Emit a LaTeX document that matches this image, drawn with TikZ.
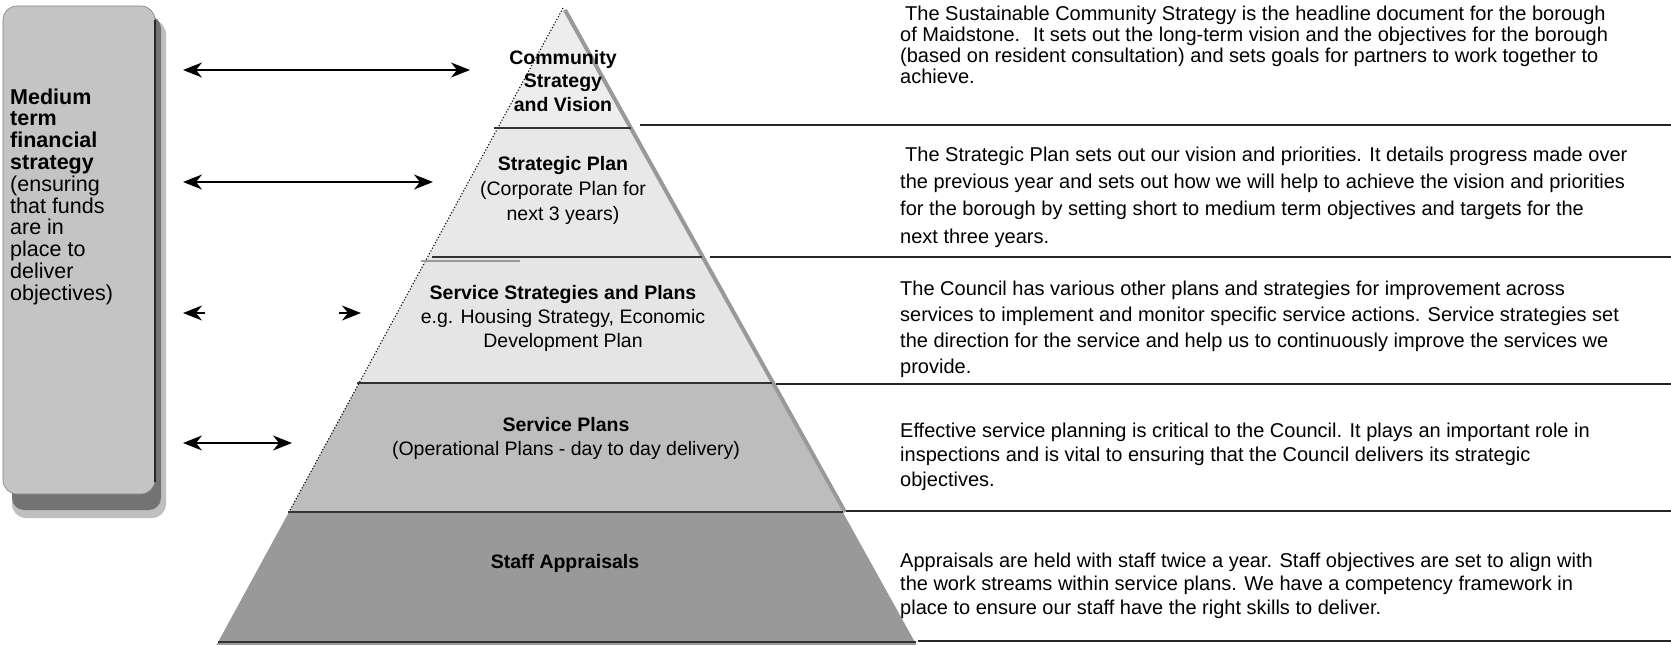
\documentclass[tikz,border=0pt]{standalone}
\usepackage{fontspec}
\setmainfont{Liberation Sans}
\usetikzlibrary{arrows.meta}
\begin{document}
\begin{tikzpicture}[x=1pt,y=-1pt,
  desc/.style={anchor=base west, inner sep=0pt, font=\fontsize{20}{24}\selectfont},
  pyrb/.style={anchor=base, inner sep=0pt, font=\fontsize{19.5}{24}\selectfont\bfseries},
  pyrr/.style={anchor=base, inner sep=0pt, font=\fontsize{19.5}{24}\selectfont},
  boxb/.style={anchor=base west, inner sep=0pt, font=\fontsize{21.5}{24}\selectfont\bfseries},
  boxr/.style={anchor=base west, inner sep=0pt, font=\fontsize{21.5}{24}\selectfont},
  sepline/.style={line width=2pt, black!85},
  layerline/.style={line width=2.6pt, black!80},
  edgeleft/.style={black, line width=1.1pt, dotted},
  edgeright/.style={black!40, line width=4pt},
  tipstyle/.style={line width=1.3pt},
  link/.style={tipstyle, {Stealth[length=19pt,width=15pt,inset=6pt]}-{Stealth[length=19pt,width=15pt,inset=6pt]}},
  onetip/.style={tipstyle, -{Stealth[length=19pt,width=15pt,inset=6pt]}},
]
\useasboundingbox (0,0) rectangle (1671,645);
\fill[white] (0,0) rectangle (1671,645);

% ---------- left box ----------
\fill[black!25, rounded corners=14pt] (12,20) rectangle (166,518);
\fill[black!55, rounded corners=12pt] (12,16) rectangle (161,510);
\filldraw[fill=black!23, draw=black!50, line width=0.6pt, rounded corners=14pt] (3,6) rectangle (155,494);
\draw[black!85, line width=2pt] (155,20) -- (155,482);

\foreach \t [count=\i] in {Medium, term, financial, strategy}
  \node[boxb] (bx\i) at (10,{104+21.8*(\i-1)}) {\t};
\foreach \t [count=\i from 5] in {{(ensuring}, {that funds}, {are in}, {place to}, {deliver}, {objectives)}}
  \node[boxr] (bx\i) at (10,{104+21.8*(\i-1)}) {\t};

% ---------- pyramid layers ----------
\fill[black!7] (563,8) -- (629.6,128) -- (497.7,128) -- cycle;
\fill[black!9] (497.7,128) -- (629.6,128) -- (701.2,257) -- (427.5,257) -- cycle;
\fill[black!10] (427.5,257) -- (701.2,257) -- (771,383) -- (359,383) -- cycle;
\fill[black!26] (359,383) -- (771,383) -- (842.7,512) -- (289,512) -- cycle;
\fill[black!40] (289,512) -- (842.7,512) -- (916.5,645) -- (216.5,645) -- cycle;

\draw[edgeright] (565,10) -- (845,512);
\draw[edgeleft] (563,8) -- (289,512);

\draw[layerline] (494,128) -- (631,128);
\draw[layerline] (432,257) -- (702,257);
\draw[black!40, line width=1.5pt] (421,261) -- (520,261);
\draw[layerline] (357,383) -- (772,383);
\draw[layerline] (288,512) -- (843,512);
\draw[layerline] (218,642) -- (916,642);

% pyramid texts
\node[pyrb] (p1a) at (563,64) {Community};
\node[pyrb] (p1b) at (563,87) {Strategy};
\node[pyrb] (p1c) at (563,111) {and Vision};
\node[pyrb] (p2a) at (563,170) {Strategic Plan};
\node[pyrr] (p2b) at (563,195) {(Corporate Plan for};
\node[pyrr] (p2c) at (563,220) {next 3 years)};
\node[pyrb] (p3a) at (563,299) {Service Strategies and Plans};
\node[pyrr] (p3b) at (563,323) {e.g. Housing Strategy, Economic};
\node[pyrr] (p3c) at (563,347) {Development Plan};
\node[pyrb] (p4a) at (566,431) {Service Plans};
\node[pyrr] (p4b) at (566,455) {(Operational Plans - day to day delivery)};
\node[pyrb] (p5a) at (565,568) {Staff Appraisals};

% ---------- arrows ----------
\coordinate (a1l) at (183,70);  \coordinate (a1r) at (470,70);
\coordinate (a2l) at (183,182); \coordinate (a2r) at (433,182);
\coordinate (a3l) at (183,313); \coordinate (a3lb) at (205,313);
\coordinate (a3r) at (361,313); \coordinate (a3rb) at (339,313);
\coordinate (a4l) at (183,443); \coordinate (a4r) at (292,443);
\draw[link] (a1l) -- (a1r);
\draw[link] (a2l) -- (a2r);
\draw[onetip] (a3lb) -- (a3l);
\draw[onetip] (a3rb) -- (a3r);
\draw[link] (a4l) -- (a4r);

% ---------- separators ----------
\draw[sepline] (640,125) -- (1671,125);
\draw[sepline] (710,257) -- (1671,257);
\draw[sepline] (776,384) -- (1671,384);
\draw[sepline] (846,511) -- (1671,511);
\draw[sepline] (918,641) -- (1671,641);

% ---------- descriptions ----------
\foreach \t [count=\i] in {
  {\hspace*{5pt}The Sustainable Community Strategy is the headline document for the borough},
  {of Maidstone.~ It sets out the long-term vision and the objectives for the borough},
  {(based on resident consultation) and sets goals for partners to work together to},
  {achieve.}}
  \node[desc] (d1\i) at (900,{20+21.2*(\i-1)}) {\t};
\foreach \t [count=\i] in {
  {\hspace*{5pt}The Strategic Plan sets out our vision and priorities. It details progress made over},
  {the previous year and sets out how we will help to achieve the vision and priorities},
  {for the borough by setting short to medium term objectives and targets for the},
  {next three years.}}
  \node[desc] (d2\i) at (900,{161+27.4*(\i-1)}) {\t};
\foreach \t [count=\i] in {
  {The Council has various other plans and strategies for improvement across},
  {services to implement and monitor specific service actions. Service strategies set},
  {the direction for the service and help us to continuously improve the services we},
  {provide.}}
  \node[desc] (d3\i) at (900,{295+26.3*(\i-1)}) {\t};
\foreach \t [count=\i] in {
  {Effective service planning is critical to the Council. It plays an important role in},
  {inspections and is vital to ensuring that the Council delivers its strategic},
  {objectives.}}
  \node[desc] (d4\i) at (900,{437+24.5*(\i-1)}) {\t};
\foreach \t [count=\i] in {
  {Appraisals are held with staff twice a year. Staff objectives are set to align with},
  {the work streams within service plans. We have a competency framework in},
  {place to ensure our staff have the right skills to deliver.}}
  \node[desc] (d5\i) at (900,{567+23.5*(\i-1)}) {\t};
\end{tikzpicture}
\end{document}
